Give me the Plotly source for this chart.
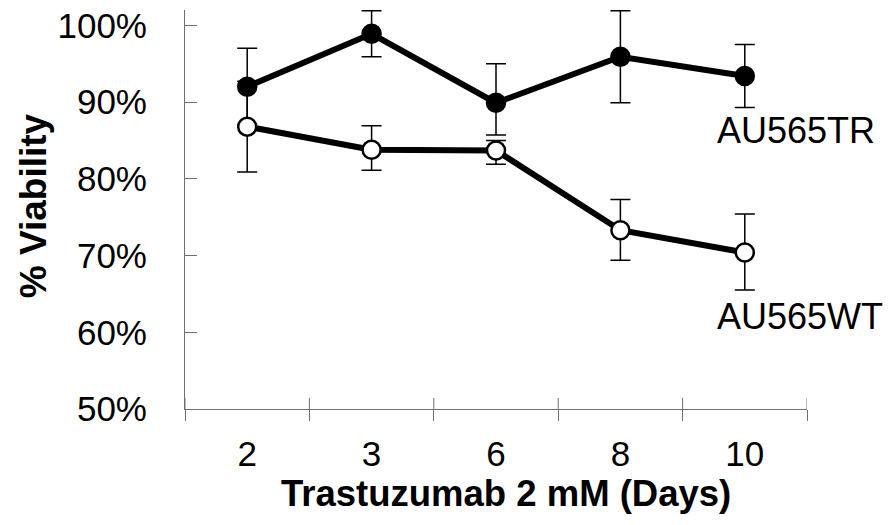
import plotly.graph_objects as go

# ---- data ----
days = ["2", "3", "6", "8", "10"]
tr_values = [92.0, 98.9, 89.9, 95.9, 93.4]
tr_err_plus = [5.0, 3.0, 5.1, 6.0, 4.1]
tr_err_minus = [5.0, 3.0, 4.2, 6.0, 4.1]
wt_values = [86.8, 83.8, 83.7, 73.3, 70.4]
wt_err_plus = [5.9, 3.1, 1.3, 4.0, 5.0]
wt_err_minus = [5.9, 2.7, 1.8, 3.9, 4.9]
y_ticks = [50, 60, 70, 80, 90, 100]
y_tick_labels = ["50%", "60%", "70%", "80%", "90%", "100%"]
series_labels = ["AU565TR", "AU565WT"]
x_title = "Trastuzumab 2 mM (Days)"
y_title = "% Viability"

FONT = "Liberation Sans, Arial, sans-serif"
AXIS_COL = "#707070"

fig = go.Figure()

fig.add_trace(go.Scatter(
    x=days, y=tr_values, mode="lines+markers", name=series_labels[0],
    line=dict(color="black", width=6),
    marker=dict(symbol="circle", size=18, color="black",
                line=dict(color="black", width=2.5)),
    error_y=dict(type="data", array=tr_err_plus, arrayminus=tr_err_minus,
                 symmetric=False, color="black", thickness=1.5, width=10),
))
fig.add_trace(go.Scatter(
    x=days, y=wt_values, mode="lines+markers", name=series_labels[1],
    line=dict(color="black", width=6),
    marker=dict(symbol="circle", size=18, color="white",
                line=dict(color="black", width=2.5)),
    error_y=dict(type="data", array=wt_err_plus, arrayminus=wt_err_minus,
                 symmetric=False, color="black", thickness=1.5, width=10),
))

# inside half of the "cross" tick marks on the category axis
for i in range(len(days) + 1):
    fig.add_shape(type="line", xref="x", yref="y",
                  x0=i - 0.5, x1=i - 0.5, ysizemode="pixel", yanchor=50,
                  y0=0, y1=11, line=dict(color=AXIS_COL, width=1))

fig.add_annotation(text=series_labels[0], xref="paper", yref="paper",
                   x=0.8525, y=0.6985, xanchor="left", yanchor="middle",
                   showarrow=False, font=dict(family=FONT, size=36, color="black"))
fig.add_annotation(text=series_labels[1], xref="paper", yref="paper",
                   x=0.8525, y=0.2306, xanchor="left", yanchor="middle",
                   showarrow=False, font=dict(family=FONT, size=36, color="black"))

# axis titles
fig.add_annotation(text="<b>" + y_title + "</b>", xref="paper", yref="paper",
                   x=-0.2445, y=0.5105, xanchor="center", yanchor="middle",
                   textangle=-90, showarrow=False,
                   font=dict(family=FONT, size=37, color="black"))
fig.add_annotation(text="<b>" + x_title + "</b>", xref="paper", yref="paper",
                   x=0.5163, y=-0.2113, xanchor="center", yanchor="middle",
                   showarrow=False,
                   font=dict(family=FONT, size=36.5, color="black"))

fig.update_layout(
    width=890, height=525,
    margin=dict(l=185, r=83, t=10, b=116, autoexpand=False),
    paper_bgcolor="white", plot_bgcolor="white",
    showlegend=False,
    font=dict(family=FONT, color="black", size=35),
    xaxis=dict(
        type="category", categoryorder="array", categoryarray=days,
        range=[-0.5, len(days) - 0.5],
        showgrid=False, zeroline=False,
        showline=True, linecolor=AXIS_COL, linewidth=1,
        ticks="outside", tickson="boundaries", ticklen=11,
        tickcolor=AXIS_COL, tickwidth=1,
        tickfont=dict(family=FONT, size=35, color="black"),
        ticklabelstandoff=14,
    ),
    yaxis=dict(
        range=[50, 102], tickmode="array", tickvals=y_ticks, ticktext=y_tick_labels,
        showgrid=False, zeroline=False,
        showline=True, linecolor=AXIS_COL, linewidth=1,
        ticks="inside", ticklen=12, tickcolor=AXIS_COL, tickwidth=1,
        tickfont=dict(family=FONT, size=35, color="black"),
        ticklabelstandoff=30,
    ),
)

fig.write_html("out.html", config={"displayModeBar": False},
               post_script="document.body.style.margin='0px';document.body.style.padding='0px';")
